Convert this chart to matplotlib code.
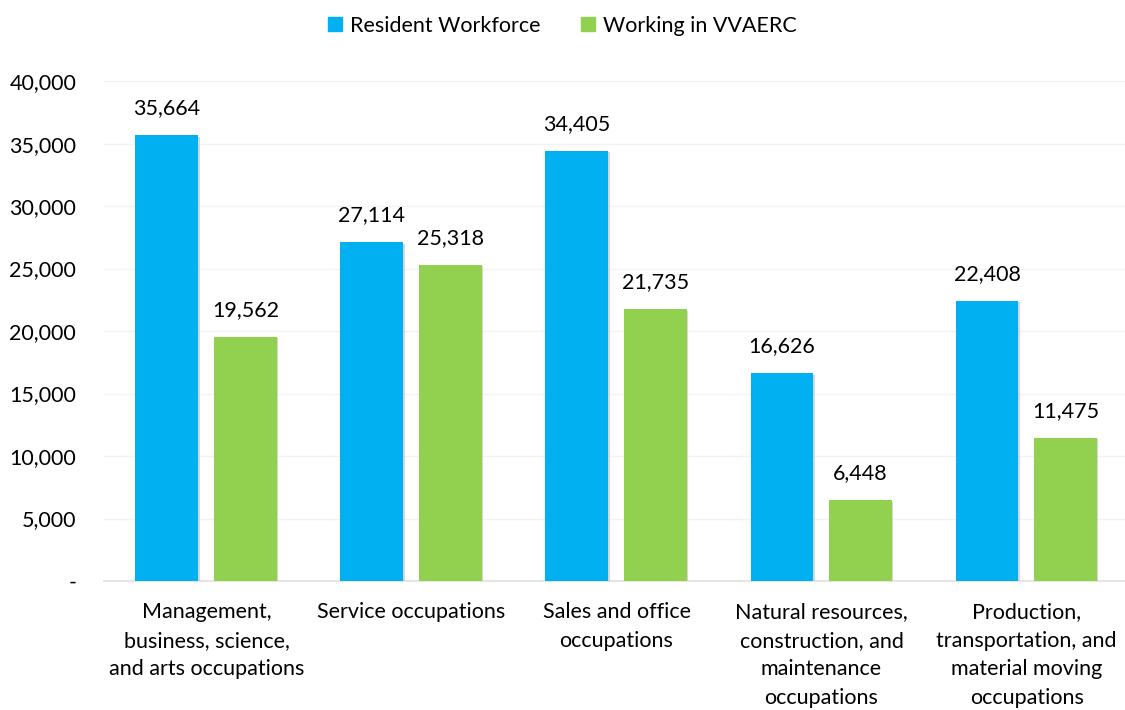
import numpy as np
import matplotlib.pyplot as plt
from matplotlib.ticker import FuncFormatter
from matplotlib.patches import Patch
import matplotlib.patheffects as pe

plt.rcParams['font.family'] = ['Lato', 'DejaVu Sans']

categories = ["Management,\nbusiness, science,\nand arts occupations",
              "Service occupations",
              "Sales and office\noccupations",
              "Natural resources,\nconstruction, and\nmaintenance\noccupations",
              "Production,\ntransportation, and\nmaterial moving\noccupations"]
resident = [35664, 27114, 34405, 16626, 22408]
working = [19562, 25318, 21735, 6448, 11475]

blue = "#00b0f0"
green = "#92d050"

fig = plt.figure(figsize=(11.25, 7.1), dpi=100)
ax = fig.add_axes([0.0924, 0.1817, 0.9076, 0.704])

x = np.arange(len(categories))
w = 0.307
shadow = [pe.SimplePatchShadow(offset=(1, -1), shadow_rgbFace="#bbbbbb", alpha=0.6), pe.Normal()]
b1 = ax.bar(x - 0.193, resident, w, color=blue, path_effects=shadow, zorder=3)
b2 = ax.bar(x + 0.19, working, w, color=green, path_effects=shadow, zorder=3)

for bars, vals in ((b1, resident), (b2, working)):
    for r, v in zip(bars, vals):
        ax.text(r.get_x() + r.get_width() / 2, v + 1350, f"{v:,}", ha="center", va="bottom",
                fontsize=15.5, color="#000000")

ax.set_xlim(-0.5, 4.48)
ax.set_ylim(0, 40000)
ax.set_yticks(range(0, 40001, 5000))
ax.yaxis.set_major_formatter(FuncFormatter(lambda v, p: "-" if v == 0 else f"{int(v):,}"))
ax.set_xticks(x)
ax.set_xticklabels(categories, fontsize=15.5, linespacing=1.55)
ax.tick_params(axis="y", labelsize=15.5, length=0, pad=20)
ax.tick_params(axis="x", length=0, pad=15)

ax.grid(axis="y", color="#f2f2f2", linewidth=1, zorder=0)
for s in ["top", "right", "left"]:
    ax.spines[s].set_visible(False)
ax.spines["bottom"].set_color("#e6e6e6")
ax.spines["bottom"].set_linewidth(1.5)

handles = [Patch(color=blue, label="Resident Workforce"), Patch(color=green, label="Working in VVAERC")]
fig.legend(handles=handles, loc="upper center", bbox_to_anchor=(0.5, 1.005), ncol=2, frameon=False,
           fontsize=15.5, handlelength=0.65, handleheight=0.65, columnspacing=1.9, handletextpad=0.35)

fig.savefig("out.png", dpi=100)
